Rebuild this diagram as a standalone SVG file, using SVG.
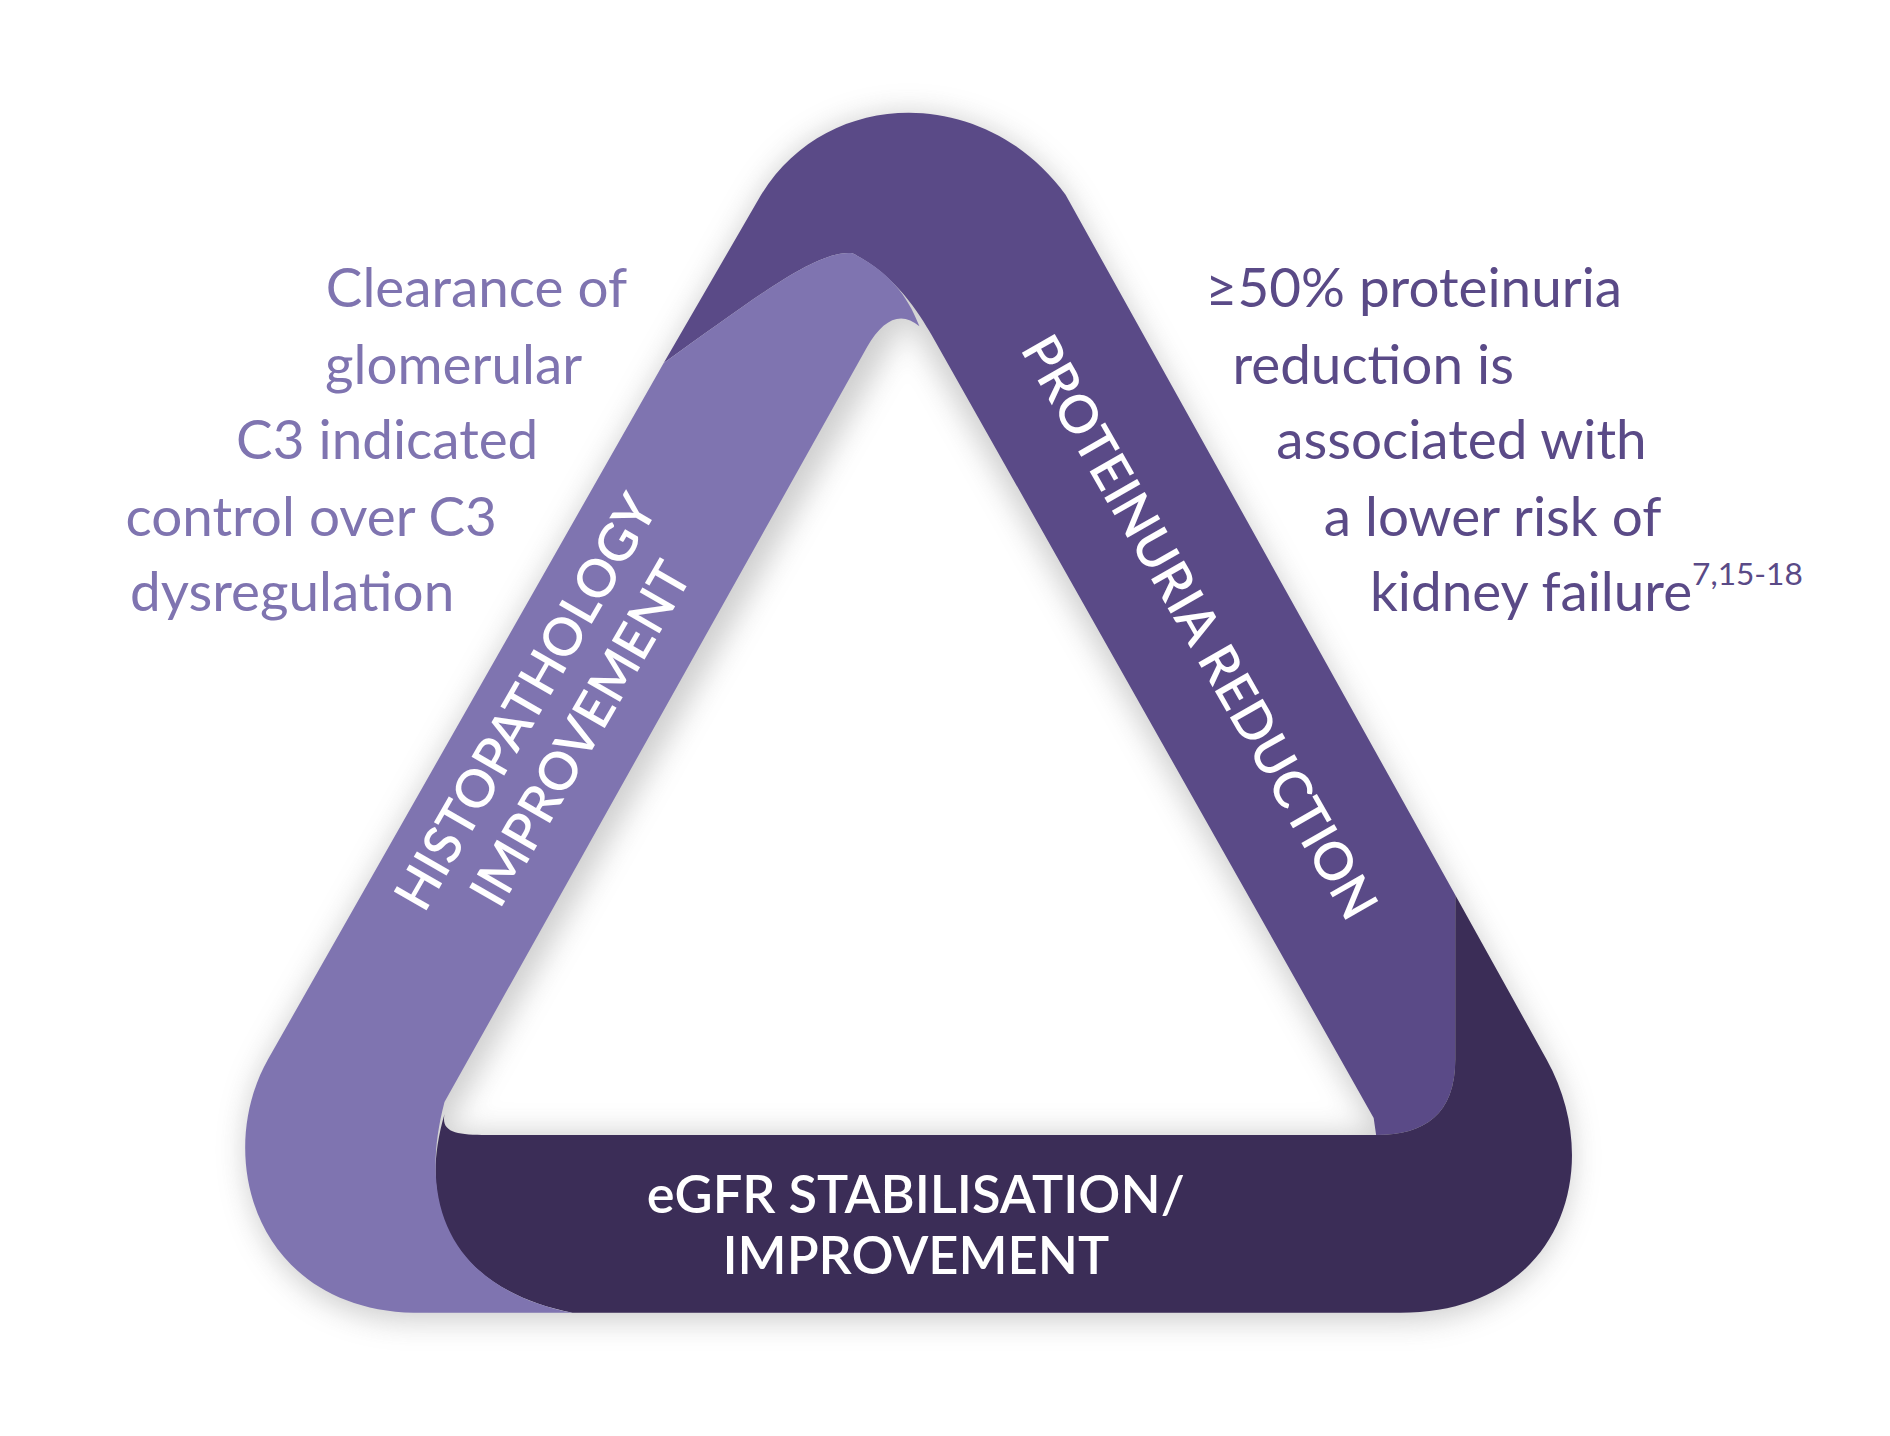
<svg xmlns="http://www.w3.org/2000/svg" width="1890" height="1436" viewBox="0 0 1890 1436">
<style>
.side{font-family:Lato,"Liberation Sans",sans-serif;font-size:45px}
.l{fill:#7f74b0;text-anchor:end}
.r{fill:#5a4a87}
.band{font-family:Lato,"Liberation Sans",sans-serif;font-size:43px;font-weight:600;fill:#fff;text-anchor:middle}
</style>
<defs>
<filter id="sh" x="-20%" y="-20%" width="140%" height="140%"><feGaussianBlur stdDeviation="12"/></filter>
</defs>
<rect width="1890" height="1436" fill="#fff"/>
<g transform="scale(1.2178)">
<g id="shadow" opacity="0.35" filter="url(#sh)">
<path d="M625 160 C680 70 810 70 875 160 L1270 870 C1320 960 1280 1085 1150 1085 L340 1085 C210 1085 175 950 220 870 Z M745 260 L365 930 L1130 930 Z" fill="#777" fill-rule="evenodd"/>
</g>
<g id="proteinuria">
<path d="M545 298 L625 160 C680 70 810 70 875 160 L1195 735 L1195 870 C1195 915 1170 932 1130 932 L1128 918 L765 275 C755 258 735 225 700 208 C670 205 620 245 545 298 Z" fill="#5a4a87"/>
<text class="band" transform="translate(985,515) rotate(60.3)" dy="15">PROTEINURIA REDUCTION</text>
</g>
<g id="egfr">
<path d="M365 915 C362 930 375 932 400 932 L1130 932 C1170 932 1195 915 1195 870 L1195 735 L1270 870 C1320 960 1280 1078 1150 1078 L470 1078 C380 1060 340 1000 365 915 Z" fill="#3b2d57"/>
<text class="band" x="752" y="996">eGFR STABILISATION/</text>
<text class="band" x="752" y="1046">IMPROVEMENT</text>
</g>
<g id="histopathology">
<path d="M700 208 C735 225 748 250 755 268 C740 255 725 262 712 285 L365 905 C340 1000 380 1060 470 1078 L340 1078 C210 1075 175 950 220 870 L545 298 C620 245 670 205 700 208 Z" fill="#7f74b0"/>
<g transform="translate(455,590) rotate(-60)">
<text class="band" y="-12">HISTOPATHOLOGY</text>
<text class="band" y="40">IMPROVEMENT</text>
</g>
</g>
<g id="left-text">
<text class="side l" x="515" y="252">Clearance of</text>
<text class="side l" x="478" y="315">glomerular</text>
<text class="side l" x="442" y="377">C3 indicated</text>
<text class="side l" x="408" y="440">control over C3</text>
<text class="side l" x="373" y="502">dysregulation</text>
</g>
<g id="right-text">
<text class="side r" x="990" y="252">≥50% proteinuria</text>
<text class="side r" x="1012" y="315">reduction is</text>
<text class="side r" x="1048" y="377">associated with</text>
<text class="side r" x="1087" y="440">a lower risk of</text>
<text class="side r" x="1125" y="502">kidney failure<tspan font-size="26" dy="-22">7,15-18</tspan></text>
</g>
</g>
</svg>
